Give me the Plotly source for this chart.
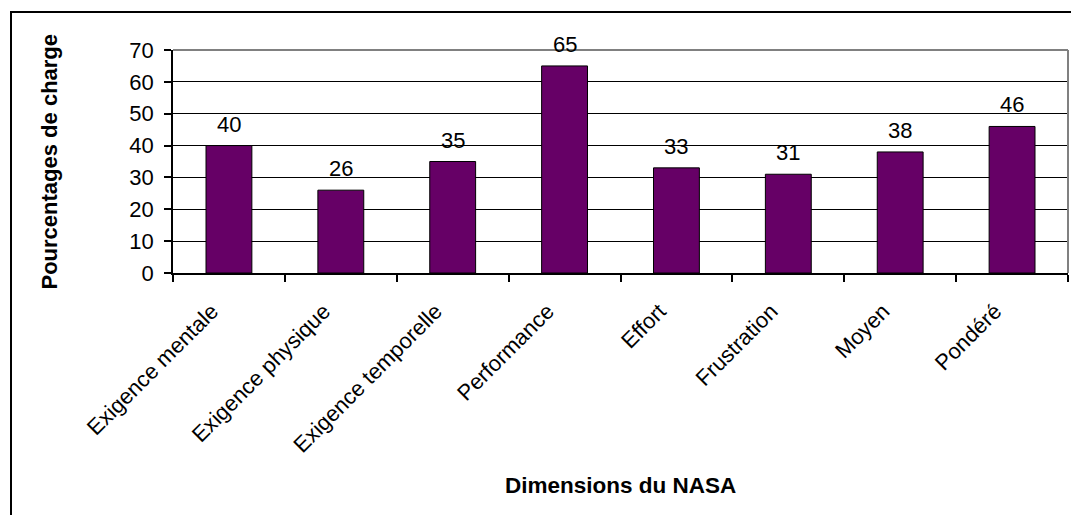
import plotly.graph_objects as go

categories = ["Exigence mentale", "Exigence physique", "Exigence temporelle",
              "Performance", "Effort", "Frustration", "Moyen", "Pondéré"]
values = [40, 26, 35, 65, 33, 31, 38, 46]
y_ticks = [0, 10, 20, 30, 40, 50, 60, 70]

W, H = 1071, 515
L, R, T, B = 173, 1068, 50, 273  # plot area in pixels
pw, ph = R - L, B - T

def px(x):
    return (x - L) / pw

def py(y):
    return (B - y) / ph

FONT = "Liberation Sans, Arial, sans-serif"

fig = go.Figure()
fig.add_trace(go.Bar(
    x=categories, y=values, width=0.41,
    marker=dict(color="#660066", line=dict(color="black", width=1)),
    hoverinfo="x+y",
))

annotations = []
for c, v in zip(categories, values):
    annotations.append(dict(x=c, y=v, xref="x", yref="y", text=str(v),
                            showarrow=False, yanchor="bottom", yshift=7,
                            font=dict(family=FONT, size=22, color="black")))
annotations.append(dict(x=0.5, y=py(485), xref="paper", yref="paper",
                        text="<b>Dimensions du NASA</b>", showarrow=False,
                        xanchor="center", yanchor="middle",
                        font=dict(family=FONT, size=22.5, color="black")))
annotations.append(dict(x=px(49), y=0.5, xref="paper", yref="paper",
                        text="<b>Pourcentages de charge</b>", showarrow=False,
                        textangle=-90, xanchor="center", yanchor="middle",
                        font=dict(family=FONT, size=22, color="black")))

shapes = [
    # outer frame
    dict(type="rect", xref="paper", yref="paper",
         x0=px(11), x1=px(1075), y0=py(520), y1=py(12),
         line=dict(color="black", width=2), layer="below"),
    # gray plot border top/right
    dict(type="line", xref="paper", yref="paper", x0=0, x1=1, y0=1, y1=1,
         line=dict(color="#808080", width=2), layer="above"),
    dict(type="line", xref="paper", yref="paper", x0=1, x1=1, y0=0, y1=1,
         line=dict(color="#808080", width=2), layer="above"),
]

fig.update_layout(
    width=W, height=H,
    margin=dict(l=L, r=W - R, t=T, b=H - B, autoexpand=False),
    paper_bgcolor="white", plot_bgcolor="white",
    showlegend=False,
    font=dict(family=FONT, size=22, color="black"),
    annotations=annotations, shapes=shapes,
    bargap=0.59,
)
fig.update_xaxes(
    type="category", tickangle=-45, tickson="boundaries",
    ticks="outside", ticklen=7, tickcolor="black", tickwidth=1.5,
    showline=True, linecolor="black", linewidth=1.5,
    showgrid=False, automargin=False,
    ticklabelshift=-17, ticklabelstandoff=15,
    tickfont=dict(family=FONT, size=22, color="black"),
)
fig.update_yaxes(
    range=[0, 70], tickvals=y_ticks,
    ticks="outside", ticklen=7, tickcolor="black", tickwidth=1.5,
    showline=True, linecolor="black", linewidth=1.5,
    showgrid=True, gridcolor="black", gridwidth=1,
    zeroline=False, automargin=False, ticklabelstandoff=6,
    tickfont=dict(family=FONT, size=22, color="black"),
)

fig.write_html("out.html")
